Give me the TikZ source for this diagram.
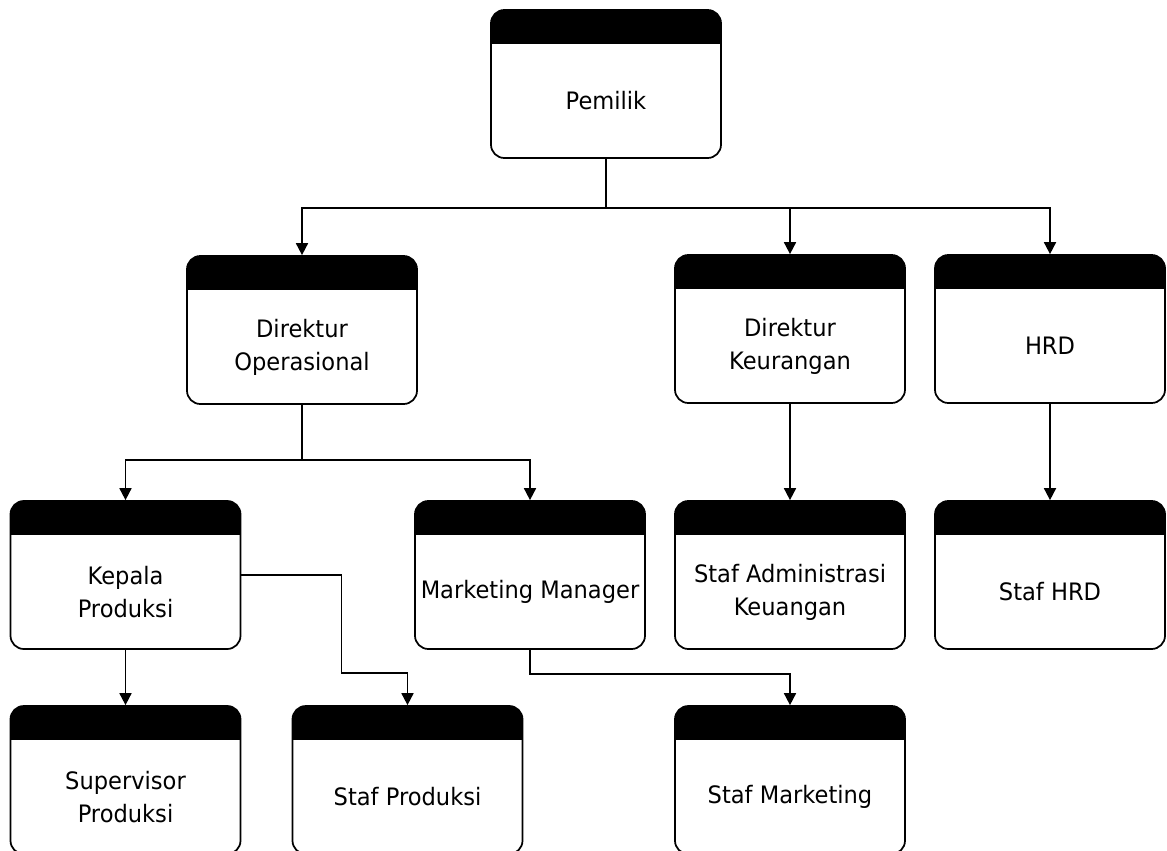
\documentclass[tikz,border=0pt]{standalone}
\usepackage{fontspec}
\setmainfont{DejaVu Sans}[FakeStretch=0.94]
\usetikzlibrary{arrows.meta}

\begin{document}
\begin{tikzpicture}[%
        x=0.75pt, y=-0.75pt, line width=1.3pt,
        unit/.style={draw, rounded corners=10pt, minimum width=172.5pt, minimum height=111pt, inner sep=0pt,
            path picture={\fill[sharp corners] (path picture bounding box.north west) rectangle ([yshift=-25.5pt]path picture bounding box.north east);},
            label={[align=center, font=\fontsize{18}{24.75}\selectfont, yshift=-12.75pt]center:#1}},
        dep/.style={-{Triangle[length=9pt,width=9pt]}}
        ]
        \path[use as bounding box, clip] (0,0) rectangle (1167,850);
        \node[unit=Pemilik] (pem) at (606,84) {};
        \node[unit={Direktur\\Operasional}] (dop) at (302,330) {};
        \node[unit={Direktur\\Keurangan}] (dke) at (790,329) {};
        \node[unit=HRD] (hrd) at (1050,329) {};
        \node[unit={Kepala\\Produksi}] (kep) at (125.5,575) {};
        \node[unit={Marketing Manager}] (mkt) at (530,575) {};
        \node[unit={Staf Administrasi\\Keuangan}] (sak) at (790,575) {};
        \node[unit={Staf HRD}] (shr) at (1050,575) {};
        \node[unit={Supervisor\\Produksi}] (spv) at (125.5,780) {};
        \node[unit={Staf Produksi}] (spr) at (407.5,780) {};
        \node[unit={Staf Marketing}] (smk) at (790,780) {};
        \draw[dep] (pem.south) -- ++(0,49) -| (dop.north);
        \draw[dep] (pem.south) -- ++(0,49) -| (dke.north);
        \draw[dep] (pem.south) -- ++(0,49) -| (hrd.north);
        \draw[dep] (dop.south) -- ++(0,55) -| (kep.north);
        \draw[dep] (dop.south) -- ++(0,55) -| (mkt.north);
        \draw[dep] (dke.south) -- (sak.north);
        \draw[dep] (hrd.south) -- (shr.north);
        \draw[dep] (kep.south) -- (spv.north);
        \draw[dep] (kep.east) -| ++(100,98) -| (spr.north);
        \draw[dep] (mkt.south) -- ++(0,24) -| (smk.north);
    \end{tikzpicture}
\end{document}
